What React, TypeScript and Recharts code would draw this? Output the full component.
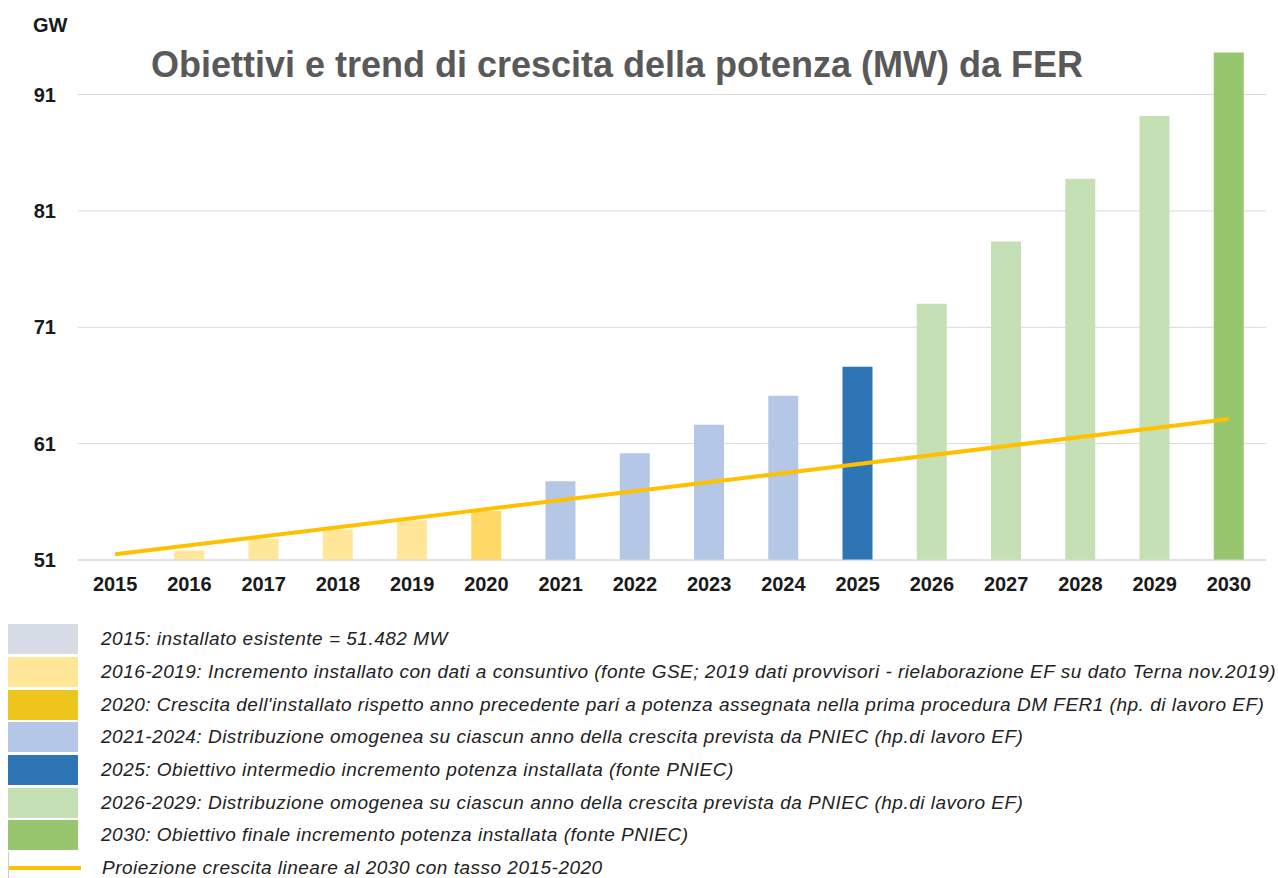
import React from 'react';
import { ComposedChart, Bar, Line, XAxis, YAxis, CartesianGrid, Cell } from 'recharts';

// years on the x axis
const years = [
  '2015', '2016', '2017', '2018', '2019', '2020', '2021', '2022',
  '2023', '2024', '2025', '2026', '2027', '2028', '2029', '2030',
];

// installed power, GW
const installedGW = [
  51.482, 52.3, 53.3, 54.1, 54.9, 55.7, 58.25, 60.65,
  63.1, 65.6, 68.1, 73.5, 78.85, 84.25, 89.65, 95.1,
];

// linear projection 2015-2020 rate: only the two end points are drawn
const trendGW: (number | null)[] = [
  51.97, null, null, null, null, null, null, null,
  null, null, null, null, null, null, null, 63.6,
];

// which legend group each year belongs to
const yearGroup = [
  'g2015', 'g1619', 'g1619', 'g1619', 'g1619', 'g2020', 'g2124', 'g2124',
  'g2124', 'g2124', 'g2025', 'g2629', 'g2629', 'g2629', 'g2629', 'g2030',
];

const yTicks = [51.482, 61.482, 71.482, 81.482, 91.482];

const legendGroups = ['g2015', 'g1619', 'g2020', 'g2124', 'g2025', 'g2629', 'g2030'];
const legendLabels = [
  '2015: installato esistente = 51.482 MW',
  '2016-2019: Incremento installato con dati a consuntivo (fonte GSE; 2019 dati provvisori - rielaborazione EF su dato Terna nov.2019)',
  "2020: Crescita dell'installato rispetto anno precedente pari a potenza assegnata nella prima procedura DM FER1 (hp. di lavoro EF)",
  '2021-2024: Distribuzione omogenea su ciascun anno della crescita prevista da PNIEC (hp.di lavoro EF)',
  '2025: Obiettivo intermedio incremento potenza installata (fonte PNIEC)',
  '2026-2029: Distribuzione omogenea su ciascun anno della crescita prevista da PNIEC (hp.di lavoro EF)',
  '2030: Obiettivo finale incremento potenza installata (fonte PNIEC)',
];
const trendLabel = 'Proiezione crescita lineare al 2030 con tasso 2015-2020';

const barColors: Record<string, string> = {
  g2015: '#D6DCE5',
  g1619: '#FFE699',
  g2020: '#FFD966',
  g2124: '#B4C7E7',
  g2025: '#2E75B6',
  g2629: '#C5E0B4',
  g2030: '#97C66F',
};
const swatchColors: Record<string, string> = {
  ...barColors,
  g2020: '#EDC51C',
};
const trendColor = '#FFC000';

const data = years.map((year, i) => ({
  year,
  installed: installedGW[i],
  trend: trendGW[i],
  group: yearGroup[i],
}));

const font = '"Liberation Sans", Arial, sans-serif';
const tickStyle = { fontSize: 20, fontWeight: 'bold', fill: '#1a1a1a', fontFamily: font };
const legendText: React.CSSProperties = {
  fontSize: 19,
  letterSpacing: 0.5,
  fontStyle: 'italic',
  color: '#222',
  whiteSpace: 'nowrap',
};

export default function App() {
  return (
    <div
      style={{
        position: 'absolute',
        left: 0,
        top: 0,
        width: 1278,
        height: 878,
        background: '#fff',
        fontFamily: font,
        overflow: 'hidden',
      }}
    >
      <div style={{ position: 'absolute', left: 0, top: 0 }}>
        <ComposedChart
          width={1278}
          height={600}
          data={data}
          margin={{ top: 42, right: 12, bottom: 0, left: 0 }}
        >
          <CartesianGrid vertical={false} horizontalValues={yTicks} stroke="#D9D9D9" />
          <XAxis
            dataKey="year"
            height={40}
            axisLine={{ stroke: '#D9D9D9' }}
            tickLine={false}
            tickSize={0}
            tickMargin={17}
            tick={tickStyle}
          />
          <YAxis
            width={78}
            domain={[51.482, 96]}
            ticks={yTicks}
            allowDataOverflow
            axisLine={false}
            tickLine={false}
            tickSize={0}
            tickMargin={22}
            tickFormatter={(v: number) => String(Math.round(v))}
            tick={tickStyle}
          />
          <Bar dataKey="installed" barSize={30} isAnimationActive={false}>
            {data.map((d) => (
              <Cell key={d.year} fill={barColors[d.group]} />
            ))}
          </Bar>
          <Line
            dataKey="trend"
            connectNulls
            stroke={trendColor}
            strokeWidth={4}
            dot={false}
            activeDot={false}
            isAnimationActive={false}
          />
        </ComposedChart>
      </div>

      <div
        style={{
          position: 'absolute',
          left: 33,
          top: 14,
          fontSize: 20,
          fontWeight: 'bold',
          color: '#1a1a1a',
        }}
      >
        GW
      </div>
      <div
        style={{
          position: 'absolute',
          left: 0,
          width: 1234,
          top: 44,
          textAlign: 'center',
          fontSize: 36,
          fontWeight: 'bold',
          color: '#595959',
        }}
      >
        Obiettivi e trend di crescita della potenza (MW) da FER
      </div>

      <div style={{ position: 'absolute', left: 8, top: 623 }}>
        {legendGroups.map((g, i) => (
          <div key={g} style={{ display: 'flex', alignItems: 'center', height: 32.7 }}>
            <div
              style={{
                width: 70,
                height: 30,
                background: swatchColors[g],
                flexShrink: 0,
              }}
            />
            <div style={{ marginLeft: 23, ...legendText }}>{legendLabels[i]}</div>
          </div>
        ))}
        <div style={{ display: 'flex', alignItems: 'center', height: 32.7, borderLeft: '1px solid #ccc' }}>
          <div style={{ width: 72, height: 4, background: trendColor, flexShrink: 0 }} />
          <div style={{ marginLeft: 21, ...legendText }}>{trendLabel}</div>
        </div>
      </div>
    </div>
  );
}
